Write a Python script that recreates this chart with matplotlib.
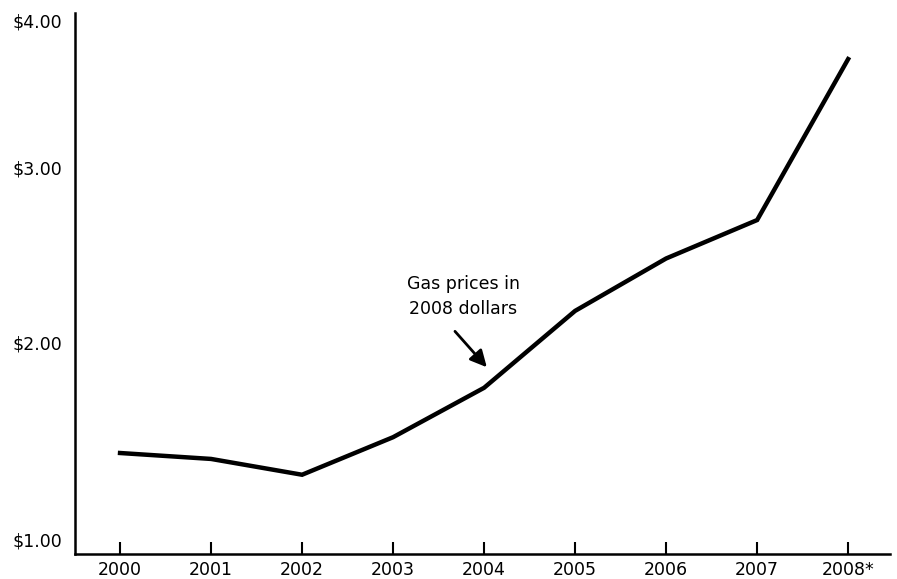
import numpy as np
import matplotlib
matplotlib.use("Agg")
import matplotlib.pyplot as plt

# Gas prices in 2008 dollars
years = [2000, 2001, 2002, 2003, 2004, 2005, 2006, 2007, 2008]
year_labels = ["2000", "2001", "2002", "2003", "2004", "2005", "2006", "2007", "2008*"]
prices = [1.44, 1.41, 1.33, 1.52, 1.77, 2.18, 2.48, 2.70, 3.74]

price_ticks = [1, 2, 3, 4]
price_labels = ["$1.00", "$2.00", "$3.00", "$4.00"]

# uneven vertical spacing of the price axis (piecewise linear)
scale_vals = [0, 1, 2, 3, 4, 5]
scale_pos = [-184, 14, 212, 387, 534, 681]


def fwd(v):
    return np.interp(v, scale_vals, scale_pos)


def inv(p):
    return np.interp(p, scale_pos, scale_vals)


plt.rcParams["font.family"] = "DejaVu Sans"

fig = plt.figure(figsize=(8.97, 5.79), dpi=100)
ax = fig.add_axes([75 / 897, 25 / 579, 815 / 897, 541 / 579])
ax.set_yscale("function", functions=(fwd, inv))

ax.plot(years, prices, color="black", lw=3.2, solid_joinstyle="miter")

ax.set_xlim(1999.505, 2008.46)
ax.set_ylim(0.929, 4.054)

ax.set_xticks(years)
ax.set_xticklabels(year_labels, fontsize=12.5)
ax.tick_params(axis="x", direction="in", length=9, width=1.5, pad=5)

ax.set_yticks(price_ticks)
ax.set_yticklabels(price_labels, fontsize=12.5)
ax.tick_params(axis="y", length=0, pad=9)
ax.minorticks_off()

for side in ["top", "right"]:
    ax.spines[side].set_visible(False)
for side in ["left", "bottom"]:
    ax.spines[side].set_linewidth(1.8)

ax.text(2003.77, 2.263, "Gas prices in\n2008 dollars", ha="center", va="center",
        fontsize=12.5, linespacing=1.45)
ax.annotate("", xy=(2004.03, 1.874), xytext=(2003.68, 2.063),
            arrowprops=dict(arrowstyle="-|>,head_length=1.0,head_width=0.5",
                            color="black", lw=2, shrinkA=0, shrinkB=0))

fig.savefig("out.png", dpi=100)
